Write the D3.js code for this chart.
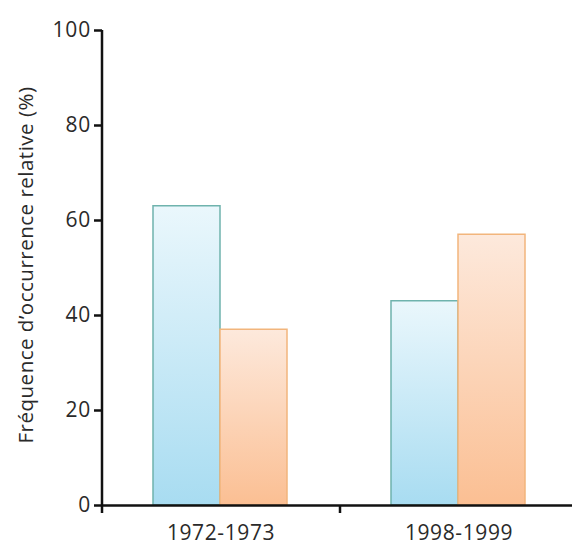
<!DOCTYPE html>
<html>
<head>
<meta charset="utf-8">
<script src="https://cdn.jsdelivr.net/npm/d3@7"></script>
<style>
  body { margin: 0; background: #fff; }
  svg { display: block; }
</style>
</head>
<body>
<div id="chart"></div>
<script>
// Chart data
const periods = ["1972-1973", "1998-1999"];
const seriesA = [63, 43];   // blue bars
const seriesB = [37, 57];   // orange bars
const yTicks = [0, 20, 40, 60, 80, 100];

const svgWidth = 572;
const svgHeight = 557;
const margin = { top: 30, right: -6, bottom: 52, left: 102 };
const width = svgWidth - margin.left - margin.right;
const height = svgHeight - margin.top - margin.bottom;

const svg = d3.select("#chart")
    .append("svg")
    .attr("width", svgWidth)
    .attr("height", svgHeight);

// Gradients for the bars
const defs = svg.append("defs");
function addGradient(id, top, bottom) {
    const g = defs.append("linearGradient")
        .attr("id", id)
        .attr("x1", 0).attr("y1", 0).attr("x2", 0).attr("y2", 1);
    g.append("stop").attr("offset", "0%").attr("stop-color", top);
    g.append("stop").attr("offset", "100%").attr("stop-color", bottom);
}
addGradient("gradBlue", "#eaf7fc", "#a8dcf1");
addGradient("gradOrange", "#fde9dc", "#fbbf93");

const chart = svg.append("g")
    .attr("transform", `translate(${margin.left},${margin.top})`);

const x = d3.scaleBand()
    .domain(periods)
    .range([0, width]);

const inner = d3.scaleBand()
    .domain(["a", "b"])
    .range([x.bandwidth() / 2 - 68, x.bandwidth() / 2 + 66]);

const y = d3.scaleLinear()
    .domain([0, 100])
    .range([height, 0]);

const rows = periods.map((p, i) => ({ period: p, values: [
    { key: "a", value: seriesA[i] },
    { key: "b", value: seriesB[i] }
] }));

const groups = chart.selectAll(".group")
    .data(rows)
    .enter()
    .append("g")
    .attr("transform", d => `translate(${x(d.period)},0)`);

groups.selectAll("rect")
    .data(d => d.values)
    .enter()
    .append("rect")
    .attr("x", d => inner(d.key))
    .attr("y", d => y(d.value))
    .attr("width", inner.bandwidth())
    .attr("height", d => height - y(d.value))
    .attr("fill", d => d.key === "a" ? "url(#gradBlue)" : "url(#gradOrange)")
    .attr("stroke", d => d.key === "a" ? "#6fb3ad" : "#f2b57c")
    .attr("stroke-width", 1.5);

// Y axis
const yAxis = chart.append("g")
    .call(d3.axisLeft(y).tickValues(yTicks).tickSize(8).tickPadding(3).tickSizeOuter(0));
yAxis.select(".domain")
    .attr("d", `M0,${y(100)}V${height + 8}`)
    .attr("stroke", "#111")
    .attr("stroke-width", 2.5);
yAxis.selectAll(".tick line").attr("stroke", "#111").attr("stroke-width", 2.5);
yAxis.selectAll("text")
    .attr("font-family", "'Open Sans', sans-serif")
    .attr("font-size", 21)
    .attr("letter-spacing", 0.8)
    .attr("fill", "#2a2a2a");

// X axis
const xAxis = chart.append("g")
    .attr("transform", `translate(0,${height})`)
    .call(d3.axisBottom(x).tickSize(0).tickPadding(20).tickSizeOuter(0));
xAxis.select(".domain")
    .attr("stroke", "#111")
    .attr("stroke-width", 2.5);
xAxis.selectAll("text")
    .attr("font-family", "'Open Sans', sans-serif")
    .attr("font-size", 21)
    .attr("letter-spacing", 0.6)
    .attr("fill", "#2a2a2a");

// Separator tick between groups
chart.append("line")
    .attr("x1", x(periods[1]))
    .attr("x2", x(periods[1]))
    .attr("y1", height)
    .attr("y2", height + 8)
    .attr("stroke", "#111")
    .attr("stroke-width", 2.5);

// Y axis title
svg.append("text")
    .attr("transform", "translate(33,265) rotate(-90)")
    .attr("text-anchor", "middle")
    .attr("font-family", "'Open Sans', sans-serif")
    .attr("font-size", 20.5)
    .attr("letter-spacing", 0.5)
    .attr("fill", "#2a2a2a")
    .text("Fréquence d’occurrence relative (%)");
</script>
</body>
</html>
